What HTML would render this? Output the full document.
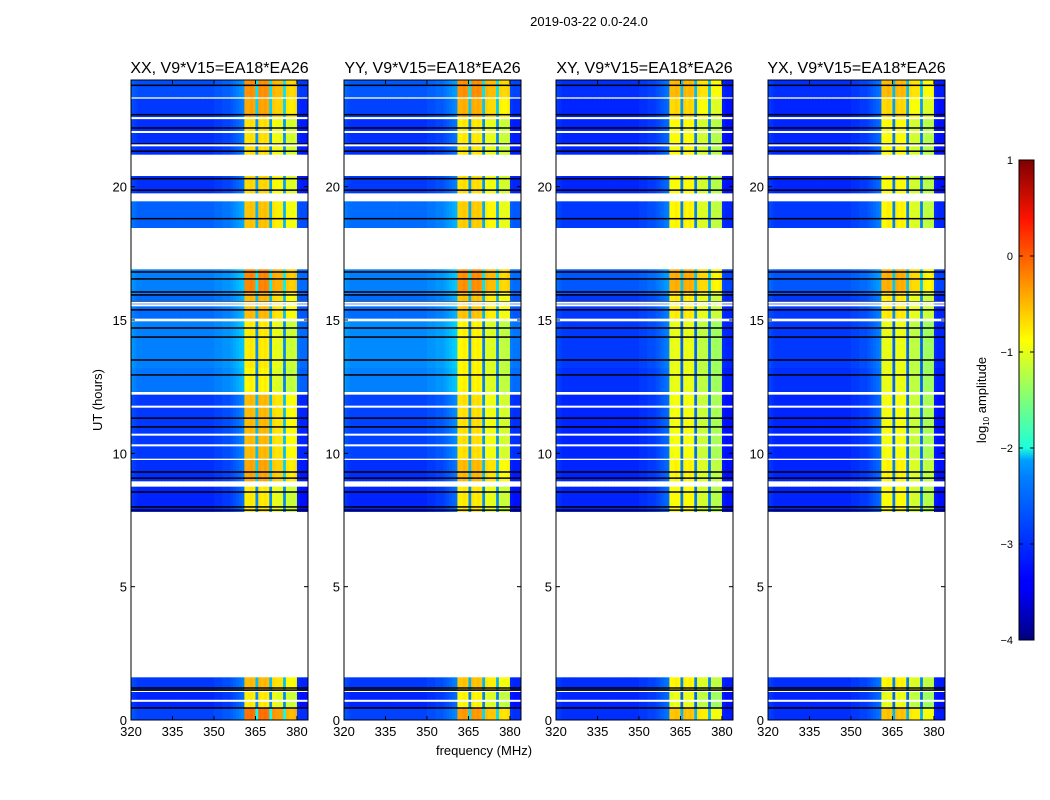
<!DOCTYPE html>
<html><head><meta charset="utf-8">
<style>
html,body{margin:0;padding:0;background:#fff;}
svg{display:block;font-family:"Liberation Sans",sans-serif;}
</style></head>
<body>
<svg id="chart" width="1050" height="800" viewBox="0 0 1050 800" xmlns="http://www.w3.org/2000/svg">
<defs>
<linearGradient id="jet" x1="0" y1="1" x2="0" y2="0">
<stop offset="0" stop-color="#00007f"/>
<stop offset="0.11" stop-color="#0000ff"/>
<stop offset="0.125" stop-color="#0000ff"/>
<stop offset="0.34" stop-color="#0080ff"/>
<stop offset="0.375" stop-color="#00a0ff"/>
<stop offset="0.4" stop-color="#1cffdb"/>
<stop offset="0.5" stop-color="#7dff7a"/>
<stop offset="0.625" stop-color="#ffff00"/>
<stop offset="0.75" stop-color="#ff8c00"/>
<stop offset="0.875" stop-color="#ff1400"/>
<stop offset="1" stop-color="#7f0000"/>
</linearGradient>
</defs>
<text x="589" y="26" font-size="13" text-anchor="middle">2019-03-22 0.0-24.0</text>
<g id="panels"></g>
<text x="484" y="755" font-size="13" text-anchor="middle">frequency (MHz)</text>
<text x="102" y="400" font-size="13" text-anchor="middle" transform="rotate(-90 102 400)">UT (hours)</text>
<g>
<rect x="1019" y="160" width="15" height="480" fill="url(#jet)" stroke="#000" stroke-width="1"/>
<g id="cbticks"></g>
<text x="986" y="400" font-size="13" text-anchor="middle" transform="rotate(-90 986 400)">log<tspan font-size="8" dy="3">10</tspan><tspan dy="-3"> amplitude</tspan></text>
</g>
</svg>
<script>
// ---- data ----
const panelTitles = ["XX, V9*V15=EA18*EA26","YY, V9*V15=EA18*EA26","XY, V9*V15=EA18*EA26","YX, V9*V15=EA18*EA26"];
const freqTicks = [320,335,350,365,380];
const timeTicks = [0,5,10,15,20];
const cbTicks = [1,0,-1,-2,-3,-4];
// segment time ranges (hours)
const segStart = [23.35,22.6,21.2,19.75,18.45,16.0,15.05,13.2,12.3,9.8,8.95,7.8,1.1,0.45,0.0];
const segEnd   = [24.0,23.3,22.55,20.4,19.45,16.9,16.0,14.95,13.2,12.2,9.75,8.75,1.6,1.05,0.45];
// broadband (off-RFI) log amplitude per segment per polarisation
const baseXX = [-3.0,-3.1,-3.15,-3.15,-2.9,-2.75,-2.85,-2.75,-2.8,-3.1,-3.15,-3.2,-3.1,-3.2,-3.05];
const baseYY = [-2.95,-3.05,-3.15,-3.1,-2.85,-2.75,-2.85,-2.7,-2.75,-3.05,-3.15,-3.2,-3.1,-3.2,-3.05];
const baseXY = [-3.15,-3.2,-3.2,-3.2,-3.1,-2.95,-3.1,-3.1,-3.15,-3.2,-3.2,-3.2,-3.15,-3.2,-3.15];
const baseYX = [-3.15,-3.2,-3.2,-3.2,-3.1,-2.95,-3.1,-3.1,-3.15,-3.2,-3.2,-3.2,-3.15,-3.2,-3.15];
// RFI band log amplitude per segment per polarisation
const bandXX = [-0.35,-0.45,-0.75,-0.7,-0.6,-0.3,-0.55,-0.8,-0.85,-0.55,-0.45,-0.8,-0.55,-0.8,-0.2];
const bandYY = [-0.35,-0.5,-0.8,-0.75,-0.65,-0.35,-0.6,-0.85,-0.85,-0.75,-0.55,-0.8,-0.6,-0.85,-0.4];
const bandXY = [-0.55,-0.7,-0.9,-0.9,-0.85,-0.5,-0.8,-1.0,-1.0,-0.95,-0.85,-0.9,-0.85,-1.0,-0.6];
const bandYX = [-0.55,-0.7,-0.9,-0.9,-0.85,-0.5,-0.8,-1.0,-1.0,-0.95,-0.85,-0.9,-0.85,-1.0,-0.6];
// channel profile, 1 MHz bins from 320 to 384 MHz: type (0 broadband, 1 RFI band, 2 band dip) and offset
const chanType = [0,0,0,0,0,0,0,0,0,0, 0,0,0,0,0,0,0,0,0,0, 0,0,0,0,0,0,0,0,0,0, 0,0,0,0,0,0,0,0,0,0, 0,1,1,1,1,2,1,1,1,1, 2,1,1,1,1,2,1,1,1,1, 0,0,0,0];
const chanOff  = [0.1,0.05,0,0,0,0,0,0,0,0, 0,0,0,0,0,0,0,0,0,0, 0,0,0,0,0,0,0,0,0,0, 0.05,0.05,0.05,0.1,0.1,0.1,0.15,0.2,0.25,0.3, 0.35,0,0,0.05,0,-1.9,0.05,0,0.05,0, -1.9,-0.15,-0.2,-0.2,-0.2,-1.9,-0.3,-0.35,-0.35,-0.3, -0.05,-0.1,-0.1,-0.1];
// flagged (black) lines, hours
const flagLines = [23.8,22.7,22.2,21.6,21.33,20.3,19.87,18.8,16.8,16.54,16.05,15.94,15.68,15.38,14.7,14.36,13.5,12.94,11.32,10.99,9.3,9.07,8.55,7.99,7.87,1.12,1.2,0.45];
// white (no-data) thin lines, hours
const gapLines = [22.57,22.05,21.55,15.65,15.55,11.75,10.7,10.3,0.72];

const baseAll = [baseXX,baseYY,baseXY,baseYX];
const bandAll = [bandXX,bandYY,bandXY,bandYX];

// ---- helpers ----
const NS = "http://www.w3.org/2000/svg";
const panelX = [131,344,556,768], PW = 177, PT = 80, PB = 720;
function xs(p,f){ return panelX[p] + (f-320)*(PW/64); }
function ys(h){ return PB - h*(PB-PT)/24; }
function clip(v){ return Math.max(0,Math.min(1,v)); }
function jet(v){
  const x = clip((v+4)/5);
  const r = clip(1.5-Math.abs(4*x-3)), g = clip(1.5-Math.abs(4*x-2)), b = clip(1.5-Math.abs(4*x-1));
  return "rgb("+Math.round(r*255)+","+Math.round(g*255)+","+Math.round(b*255)+")";
}
function mk(tag, attrs, parent){
  const e = document.createElementNS(NS, tag);
  for (const k in attrs) e.setAttribute(k, attrs[k]);
  parent.appendChild(e); return e;
}
const root = document.getElementById("panels");
for (let p=0;p<4;p++){
  const g = mk("g",{},root);
  
  
  for (let s=0;s<segStart.length;s++){
    const y0 = ys(segEnd[s]), y1 = ys(segStart[s]);
    for (let c=0;c<chanType.length;c++){
      const lvl = (chanType[c]===0 ? baseAll[p][s] : bandAll[p][s]) + chanOff[c];
      const r = mk("rect",{x:xs(p,320+c).toFixed(2), y:y0.toFixed(2), width:(PW/64+0.4).toFixed(2), height:(y1-y0).toFixed(2), fill:jet(lvl)},g);
      
      
    }
  }
  for (const h of flagLines){
    const l = mk("rect",{x:panelX[p], y:(ys(h)-0.75).toFixed(2), width:PW, height:1.5, fill:"#000"},g);
    
    
  }
  for (const h of gapLines){
    const l = mk("rect",{x:panelX[p], y:(ys(h)-1).toFixed(2), width:PW, height:2, fill:"#fff"},g);
    
    
  }
  const fr = mk("rect",{x:panelX[p], y:PT, width:PW, height:PB-PT, fill:"none", stroke:"#000", "stroke-width":1},g);
  
  
  const t = mk("text",{x:panelX[p]+PW/2, y:73, "font-size":16, "text-anchor":"middle"},g);
  t.textContent = panelTitles[p];
  
  
  for (const f of freqTicks){
    const x = xs(p,f);
    mk("line",{x1:x,x2:x,y1:PB,y2:PB-4,stroke:"#000"},g);
    mk("line",{x1:x,x2:x,y1:PT,y2:PT+4,stroke:"#000"},g);
    const tl = mk("text",{x:x, y:PB+16, "font-size":13, "text-anchor":"middle"},g);
    tl.textContent = f;
    
    
  }
  for (const h of timeTicks){
    const y = ys(h);
    mk("line",{x1:panelX[p],x2:panelX[p]+4,y1:y,y2:y,stroke:"#000"},g);
    mk("line",{x1:panelX[p]+PW,x2:panelX[p]+PW-4,y1:y,y2:y,stroke:"#000"},g);
    const tl = mk("text",{x:panelX[p]-4, y:y+5, "font-size":13, "text-anchor":"end"},g);
    tl.textContent = h;
    
    
  }
}
const cb = document.getElementById("cbticks");
for (const v of cbTicks){
  const y = 640 - (v+4)*96;
  mk("line",{x1:1019,x2:1023,y1:y,y2:y,stroke:"#000"},cb);
  mk("line",{x1:1034,x2:1030,y1:y,y2:y,stroke:"#000"},cb);
  const tl = mk("text",{x:1013, y:y+4, "font-size":11, "text-anchor":"end"},cb);
  tl.textContent = v<0 ? "\u2212"+Math.abs(v) : v;
  
  
}
</script>
</body></html>
